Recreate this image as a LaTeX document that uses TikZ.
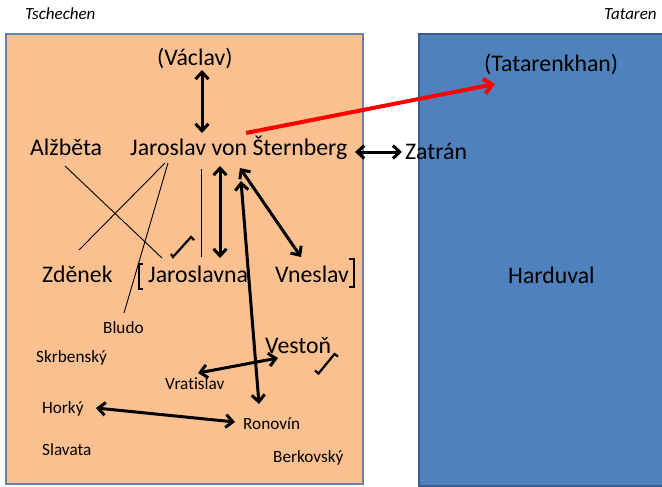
\documentclass[tikz,border=0pt]{standalone}
\usepackage{fontspec}
\setmainfont[Ligatures=NoCommon]{Carlito}
\usetikzlibrary{arrows.meta}
\definecolor{peach}{RGB}{250,192,143}
\definecolor{peachedge}{RGB}{100,130,175}
\definecolor{tatblue}{RGB}{79,129,189}
\definecolor{tatedge}{RGB}{56,93,138}

\begin{document}
\begin{tikzpicture}[x=1pt,y=-1pt,
  big/.style={anchor=base west,inner sep=0pt,font=\fontsize{23.8}{28}\selectfont},
  small/.style={anchor=base west,inner sep=0pt,font=\fontsize{17.2}{20}\selectfont},
  region/.style={anchor=base west,inner sep=0pt,font=\fontsize{17}{20}\selectfont\itshape},
  link/.style={line width=3pt,{Straight Barb[length=7pt,width=13pt]}-{Straight Barb[length=7pt,width=13pt]}},
  redlink/.style={line width=4pt,red,-{Straight Barb[length=8pt,width=15pt]}},
  thinline/.style={line width=0.9pt},
  hook/.style={line width=2.2pt},
  realm/.style={line width=1.5pt}]
\useasboundingbox (0,0) rectangle (662,487);

% the two realms
\draw[realm,fill=peach,draw=peachedge] (6,34) rectangle (363,484);
\draw[realm,fill=tatblue,draw=tatedge] (419,34) rectangle (680,486);

% realm captions
\node[region] (tsch) at (25,20) {Tschechen};
\node[region] (tat) at (604,20) {Tataren};

% people
\node[big] (V) at (157,66) {(Václav)};
\node[big] (A) at (30,155) {Alžběta};
\node[big] (J) at (130,155) {Jaroslav von Šternberg};
\node[big] (Z) at (405,159) {Zatrán};
\node[big] (T) at (484,72) {(Tatarenkhan)};
\node[big] (Zd) at (42,282) {Zděnek};
\node[big] (Jn) at (148,282) {Jaroslavna};
\node[big] (Vn) at (275,282) {Vneslav};
\node[big] (H) at (508,283) {Harduval};
\node[small] (B) at (103,333) {Bludo};
\node[small] (Sk) at (36,362) {Skrbenský};
\node[big] (Ve) at (265,353) {Vestoň};
\node[small] (Vr) at (165,389) {Vratislav};
\node[small] (Ho) at (42,413) {Horký};
\node[small] (R) at (243,429) {Ronovín};
\node[small] (Sl) at (42,455) {Slavata};
\node[small] (Be) at (273,462) {Berkovský};

% brackets round Jaroslavna ... Vneslav
\draw[hook] (143,264) -- (139,264) -- (139,289) -- (143,289);
\draw[hook] (349,259) -- (354,259) -- (354,287) -- (349,287);

% small hook marks
\draw[hook] (171,254) -- (173,257) -- (191,237) -- (194,240);
\draw[hook] (315,370.5) -- (318.5,373.5) -- (334.5,354) -- (338,356.5);

% thin lines
\draw[thinline] ([shift={(35,11)}]A.base west) -- ([shift={(14,-24)}]Jn.base west);
\draw[thinline] ([shift={(35,8)}]J.base west) -- ([shift={(37,-32)}]Zd.base west);
\draw[thinline] ([shift={(38,8)}]J.base west) -- ([shift={(21,-20)}]B.base west);
\draw[thinline] ([shift={(71,14)}]J.base west) -- ([shift={(53,-25)}]Jn.base west);

% double arrows
\draw[link] ([shift={(45,4)}]V.base west) -- ([shift={(72,-22)}]J.base west);
\draw[link] ([shift={(225,-3)}]J.base west) -- ([shift={(-3,-7)}]Z.base west);
\draw[link] ([shift={(90,11)}]J.base west) -- ([shift={(72,-24)}]Jn.base west);
\draw[link] ([shift={(110,13)}]J.base west) -- ([shift={(26,-25)}]Vn.base west);
\draw[link] ([shift={(111,26)}]J.base west) -- ([shift={(16,-25)}]R.base west);
\draw[link] ([shift={(33,-16)}]Vr.base west) -- ([shift={(13,5)}]Ve.base west);
\draw[link] ([shift={(54,-5)}]Ho.base west) -- ([shift={(-8,-7)}]R.base west);

% to the Tatars
\draw[redlink] ([shift={(116,-22)}]J.base west) -- ([shift={(11,12)}]T.base west);
\end{tikzpicture}
\end{document}
